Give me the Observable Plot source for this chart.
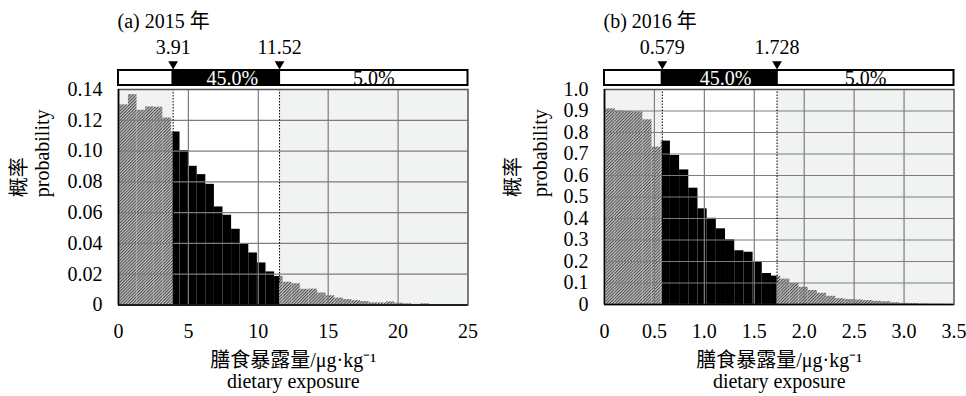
<!DOCTYPE html>
<html><head><meta charset="utf-8">
<script src="https://cdn.jsdelivr.net/npm/d3@7"></script>
<script src="https://cdn.jsdelivr.net/npm/@observablehq/plot@0.6"></script>
<style>
body{margin:0;background:#fff;}
#wrap{display:flex;width:966px;height:396px;overflow:hidden;}
#wrap svg{font-family:"Liberation Serif","Noto Sans CJK SC",serif;}
</style></head><body><div id="wrap"></div>
<script>
// ---------- Panel (a) 2015 ----------
const titleA = "(a) 2015 年";
const cutA = [3.91, 11.52];
const cutLabelsA = ["3.91", "11.52"];
const pctA = ["45.0%", "5.0%"];
const binStartA = 0.095;
const binWidthA = 0.615;
const probA = [0.130, 0.1367, 0.1265, 0.1287, 0.1285, 0.1215, 0.1124, 0.1003, 0.0901, 0.0847,
  0.0784, 0.0637, 0.0583, 0.0492, 0.0397, 0.0338, 0.0273, 0.0215, 0.0185, 0.0148,
  0.0138, 0.0102, 0.0103, 0.0078, 0.0060, 0.0045, 0.0035, 0.0028, 0.0022, 0.0014,
  0.0013, 0.0020, 0.0012, 0.0008, 0.0004, 0.0008, 0.0003, 0.0002, 0.0001, 0.0001];
const xTicksA = [0, 5, 10, 15, 20, 25];
const xTickLabelsA = ["0", "5", "10", "15", "20", "25"];
const yTicksA = [0, 0.02, 0.04, 0.06, 0.08, 0.10, 0.12, 0.14];
const yTickLabelsA = ["0", "0.02", "0.04", "0.06", "0.08", "0.10", "0.12", "0.14"];

// ---------- Panel (b) 2016 ----------
const titleB = "(b) 2016 年";
const cutB = [0.579, 1.728];
const cutLabelsB = ["0.579", "1.728"];
const pctB = ["45.0%", "5.0%"];
const binStartB = 0.016;
const binWidthB = 0.092;
const probB = [0.910, 0.900, 0.898, 0.896, 0.859, 0.732, 0.760, 0.693, 0.626, 0.541,
  0.445, 0.401, 0.352, 0.301, 0.250, 0.243, 0.200, 0.144, 0.132, 0.118,
  0.098, 0.080, 0.065, 0.052, 0.038, 0.027, 0.023, 0.021, 0.018, 0.015,
  0.013, 0.008, 0.005, 0.004, 0.002, 0.001, 0.001];
const xTicksB = [0, 0.5, 1.0, 1.5, 2.0, 2.5, 3.0, 3.5];
const xTickLabelsB = ["0", "0.5", "1.0", "1.5", "2.0", "2.5", "3.0", "3.5"];
const yTicksB = [0, 0.1, 0.2, 0.3, 0.4, 0.5, 0.6, 0.7, 0.8, 0.9, 1.0];
const yTickLabelsB = ["0", "0.1", "0.2", "0.3", "0.4", "0.5", "0.6", "0.7", "0.8", "0.9", "1.0"];

// ---------- shared text ----------
const yLabelZh = "概率";
const yLabelEn = "probability";
const xLabelZh = "膳食暴露量/μg·kg⁻¹";
const xLabelEn = "dietary exposure";

function segments(probs, start, width, cut) {
  const outer = [], inner = [];
  probs.forEach((p, i) => {
    const a = Math.max(0, start + i * width), b = start + (i + 1) * width;
    const pieces = [[a, Math.min(b, cut[0]), outer], [Math.max(a, cut[0]), Math.min(b, cut[1]), inner], [Math.max(a, cut[1]), b, outer]];
    for (const [x1, x2, arr] of pieces) if (x2 > x1) arr.push({x1, x2, p});
  });
  return {outer, inner};
}

function panel(cfg) {
  const {id, title, cut, cutLabels, pct, start, width, probs, xTicks, xTickLabels, yTicks, yTickLabels, ml, mr, mb, ylDx} = cfg;
  const xmax = xTicks[xTicks.length - 1], ymax = yTicks[yTicks.length - 1];
  const segs = segments(probs, start, width, cut);
  const hatch = `url(#${id})`;
  const shade = [{a: 0, b: cut[0]}, {a: cut[1], b: xmax}];
  const boxW = [{a: 0, b: cut[0]}, {a: cut[1], b: xmax}];
  const boxB = [{a: cut[0], b: cut[1]}];
  const cuts = cut.map((c, i) => ({c, label: cutLabels[i]}));
  const pctData = [{x: (cut[0] + cut[1]) / 2, t: pct[0]}, {x: (cut[1] + xmax) / 2, t: pct[1]}];
  const T = {fontSize: 20, lineAnchor: "middle"};
  const svg = Plot.plot({
    width: 483, height: 396,
    marginLeft: ml, marginRight: mr, marginTop: 89, marginBottom: mb,
    style: {fontSize: "20px", fontFamily: '"Liberation Serif","Noto Sans CJK SC",serif', color: "#000", background: "#fff"},
    x: {domain: [0, xmax]},
    y: {domain: [0, ymax]},
    marks: [
      Plot.rect(shade, {x1: "a", x2: "b", fill: "#f1f2f2"}),
      Plot.rect(segs.outer, {x1: "x1", x2: "x2", y1: () => 0, y2: "p", fill: hatch}),
      Plot.rect(segs.inner, {x1: "x1", x2: "x2", y1: () => 0, y2: "p", fill: "#000"}),
      Plot.gridX(xTicks.slice(1, -1), {stroke: "#7d7d7d", strokeOpacity: 1, strokeWidth: 1.2}),
      Plot.gridY(yTicks.slice(1, -1), {stroke: "#7d7d7d", strokeOpacity: 1, strokeWidth: 1.2}),
      Plot.ruleX(cuts, {x: "c", y1: () => 0, y2: () => ymax, insetTop: -22, stroke: "#000", strokeWidth: 1, strokeDasharray: "1.5,1.5"}),
      Plot.frame({stroke: "#555", strokeWidth: 1.5}),
      Plot.ruleX([0], {stroke: "#000", strokeWidth: 1.6}),
      Plot.ruleY([0], {stroke: "#000", strokeWidth: 1.6}),
      Plot.rect(boxW, {x1: "a", x2: "b", y1: () => ymax, y2: () => ymax, insetTop: -19, insetBottom: 4, fill: "#fff", stroke: "#000", strokeWidth: 2}),
      Plot.rect(boxB, {x1: "a", x2: "b", y1: () => ymax, y2: () => ymax, insetTop: -19, insetBottom: 4, fill: "#000", stroke: "#000", strokeWidth: 2}),
      Plot.text(pctData.slice(0, 1), {...T, x: "x", text: "t", frameAnchor: "top", dx: 6, dy: -10.5, fill: "#fff"}),
      Plot.text(pctData.slice(1), {...T, x: "x", text: "t", frameAnchor: "top", dy: -10.5, fill: "#000"}),
      Plot.dot(cuts, {x: "c", frameAnchor: "top", dy: -25.5, symbol: "triangle", rotate: 180, r: 3.6, fill: "#000", stroke: "none"}),
      Plot.text(cuts, {...T, x: "c", text: "label", frameAnchor: "top", dy: -42}),
      Plot.text([title], {...T, frameAnchor: "top-left", textAnchor: "start", dx: -1, dy: -67.5}),
      Plot.axisX(xTicks, {tickFormat: d => xTickLabels[xTicks.indexOf(d)], tickSize: 0, tickPadding: 19, label: null, fontSize: 20}),
      Plot.axisY(yTicks, {tickFormat: d => yTickLabels[yTicks.indexOf(d)], tickSize: 0, tickPadding: 16, label: null, fontSize: 20}),
      Plot.text([yLabelZh], {...T, frameAnchor: "left", rotate: -90, dx: ylDx[0]}),
      Plot.text([yLabelEn], {...T, frameAnchor: "left", rotate: -90, dx: ylDx[1]}),
      Plot.text([xLabelZh], {...T, frameAnchor: "bottom", dy: 56}),
      Plot.text([xLabelEn], {...T, frameAnchor: "bottom", dy: 77})
    ]
  });
  d3.select(svg).insert("defs", ":first-child").html(
    `<pattern id="${id}" width="2.2" height="2.2" patternUnits="userSpaceOnUse" patternTransform="rotate(45)">` +
    `<rect width="2.2" height="2.2" fill="#c4c4c4"/><line x1="0.5" y1="0" x2="0.5" y2="2.2" stroke="#4a4a4a" stroke-width="1"/></pattern>`);
  return svg;
}

const wrap = document.getElementById("wrap");
wrap.appendChild(panel({id: "hatchA", title: titleA, cut: cutA, cutLabels: cutLabelsA, pct: pctA,
  start: binStartA, width: binWidthA, probs: probA, xTicks: xTicksA, xTickLabels: xTickLabelsA,
  yTicks: yTicksA, yTickLabels: yTickLabelsA, ml: 118, mr: 15.5, mb: 91.5, ylDx: [-99, -76]}));
wrap.appendChild(panel({id: "hatchB", title: titleB, cut: cutB, cutLabels: cutLabelsB, pct: pctB,
  start: binStartB, width: binWidthB, probs: probB, xTicks: xTicksB, xTickLabels: xTickLabelsB,
  yTicks: yTicksB, yTickLabels: yTickLabelsB, ml: 121, mr: 12.5, mb: 92, ylDx: [-91, -64]}));
</script></body></html>
